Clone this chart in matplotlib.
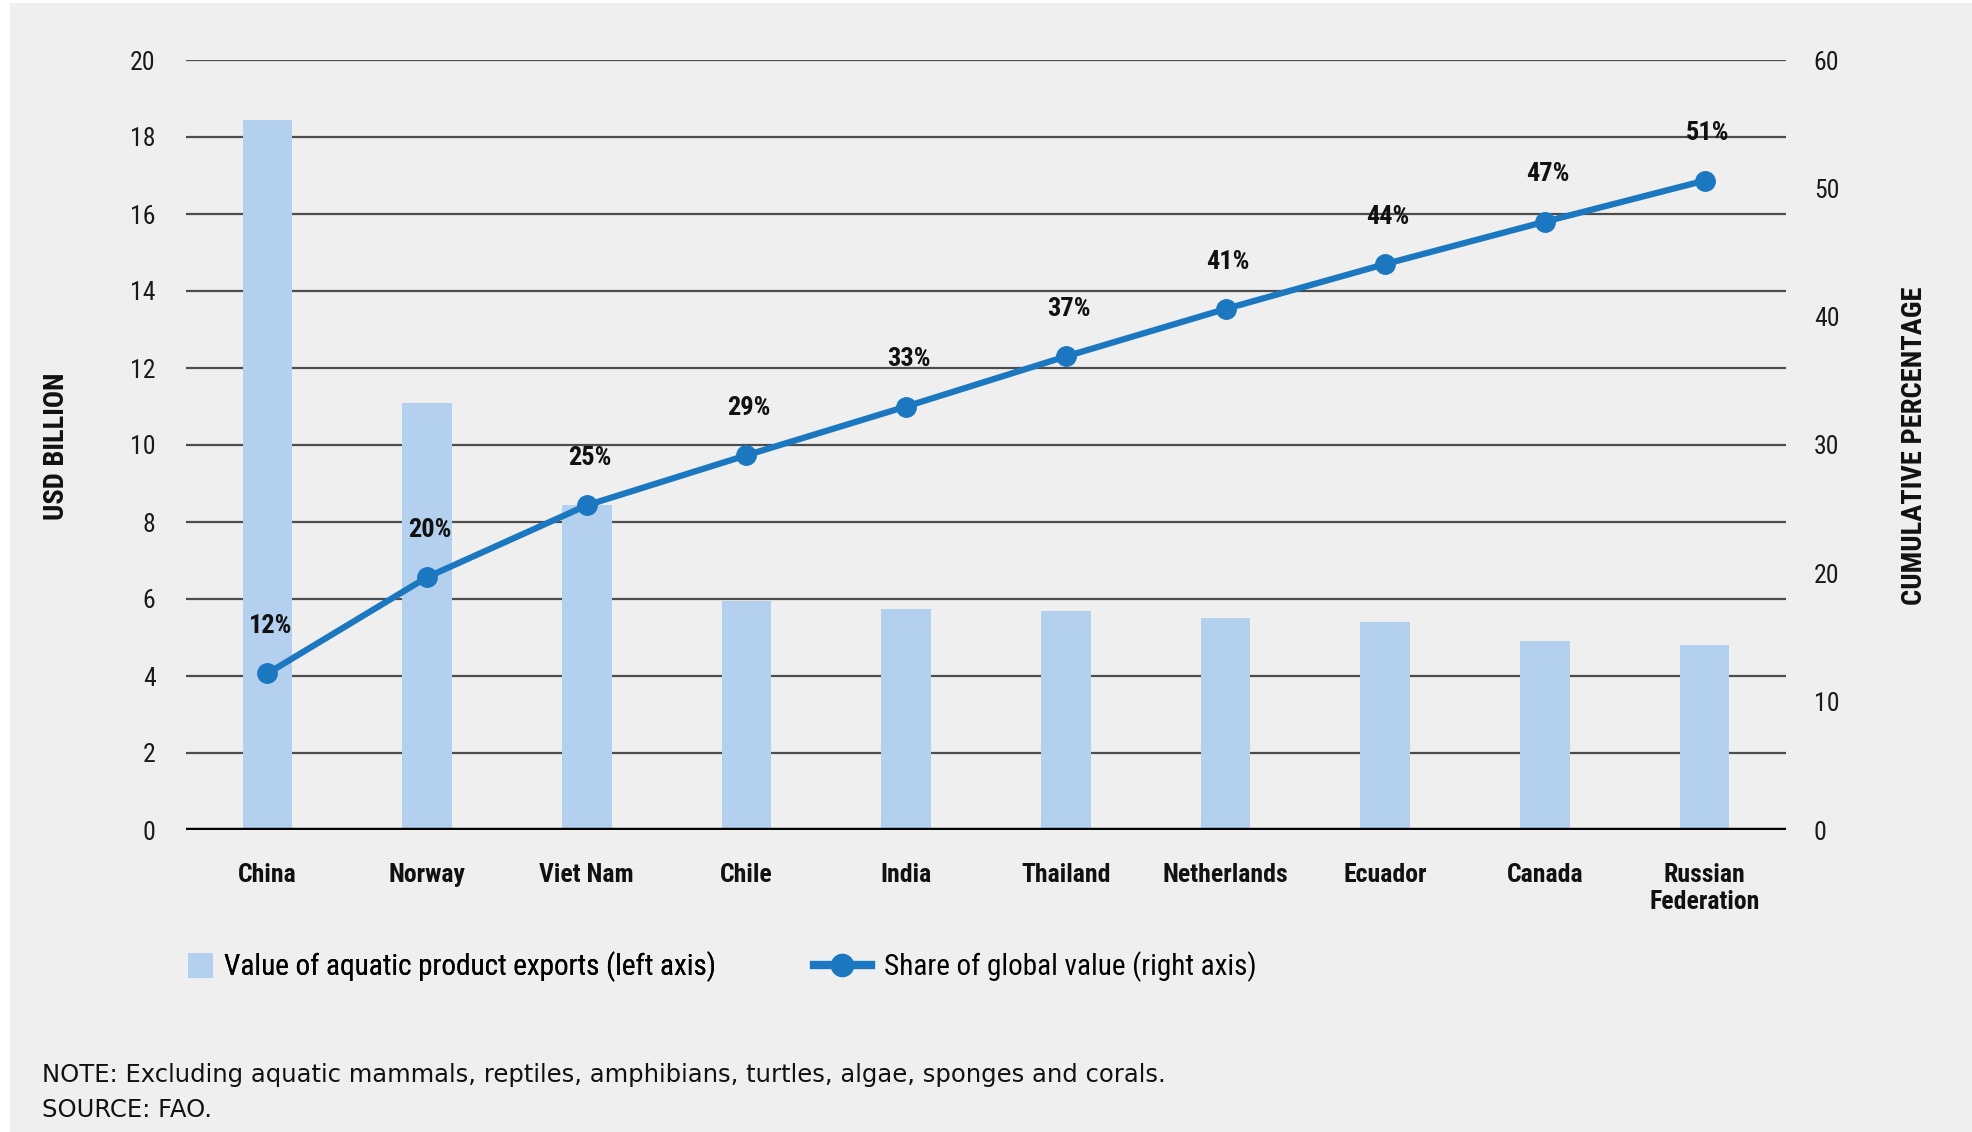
import matplotlib
matplotlib.use("Agg")
import matplotlib.pyplot as plt
from matplotlib import font_manager
from matplotlib.patches import Rectangle, Patch
from matplotlib.lines import Line2D

# ---- data ----
countries = ["China", "Norway", "Viet Nam", "Chile", "India", "Thailand",
             "Netherlands", "Ecuador", "Canada", "Russian\nFederation"]
export_value = [18.45, 11.1, 8.45, 5.95, 5.75, 5.7, 5.5, 5.4, 4.9, 4.8]   # USD billion
cumulative_share = [12.2, 19.7, 25.3, 29.2, 33.0, 36.9, 40.6, 44.1, 47.4, 50.6]  # %
left_ticks = [0, 2, 4, 6, 8, 10, 12, 14, 16, 18, 20]
right_ticks = [0, 10, 20, 30, 40, 50, 60]

bar_label = "Value of aquatic product exports (left axis)"
line_label = "Share of global value (right axis)"
note_text = "NOTE: Excluding aquatic mammals, reptiles, amphibians, turtles, algae, sponges and corals."
source_text = "SOURCE: FAO."

# ---- fonts ----
installed = {f.name for f in font_manager.fontManager.ttflist}
narrow = None
for cand in ["Liberation Sans Narrow", "Roboto Condensed", "Open Sans Condensed",
             "DejaVu Sans Condensed"]:
    if cand in installed:
        narrow = cand
        break
if narrow is None:
    narrow_family = ["DejaVu Sans"]
    narrow_stretch = "condensed"
else:
    narrow_family = [narrow, "DejaVu Sans"]
    narrow_stretch = "normal"

plt.rcParams["font.family"] = narrow_family

BG = "#efefef"
BAR = "#b3d1ee"
LINE = "#1b78c0"
GRID = "#4d4d4d"
INK = "#111111"

fig = plt.figure(figsize=(19.72, 11.32), dpi=100, facecolor="white")
fig.patches.append(Rectangle((10 / 1972, 0), 1, 1 - 3 / 1132, transform=fig.transFigure,
                             facecolor=BG, edgecolor="none", zorder=-10))

ax = fig.add_axes([186 / 1972, 1 - 830 / 1132, 1600 / 1972, 770 / 1132])
ax.set_facecolor("none")
ax2 = ax.twinx()
ax.set_zorder(1)
ax2.set_zorder(2)
ax2.patch.set_visible(False)

x = list(range(len(countries)))

# gridlines
for t in left_ticks[1:]:
    ax.axhline(t, color=GRID, lw=1.6, zorder=0)
ax.axhline(0, color="black", lw=3.2, zorder=3)

ax.bar(x, export_value, width=0.31, color=BAR, zorder=2)

ax.set_xlim(-0.51, len(countries) - 0.49)
ax.set_ylim(0, 20)
ax.set_yticks(left_ticks)
ax2.set_ylim(0, 60)
ax2.set_yticks(right_ticks)

ax2.plot(x, cumulative_share, color=LINE, lw=4.5, marker="o", ms=14, zorder=5)
for xi, v in zip(x, cumulative_share):
    ax2.annotate(f"{v:.0f}%", (xi, v), xytext=(2, 34), textcoords="offset points",
                 ha="center", va="center", fontsize=19, fontweight="bold",
                 fontstretch=narrow_stretch, color=INK)

for a in (ax, ax2):
    for s in a.spines.values():
        s.set_visible(False)
    a.tick_params(length=0)

ax.set_xticks(x)
ax.set_xticklabels(countries, fontsize=18.5, fontweight="bold", linespacing=1.12,
                   fontstretch=narrow_stretch, color=INK)
ax.tick_params(axis="x", pad=24)
ax.tick_params(axis="y", labelsize=18.5, pad=22)
ax2.tick_params(axis="y", labelsize=18.5, pad=20)
for lbl in ax.get_yticklabels() + ax2.get_yticklabels():
    lbl.set_fontstretch(narrow_stretch)
    lbl.set_color("#1a1a1a")

fig.text(57 / 1972, 1 - 446 / 1132, "USD BILLION", rotation=90, ha="center", va="center",
         fontsize=20.5, fontweight="bold", fontstretch=narrow_stretch, color=INK)
fig.text(1914 / 1972, 1 - 446 / 1132, "CUMULATIVE PERCENTAGE", rotation=90, ha="center",
         va="center", fontsize=20.5, fontweight="bold", fontstretch=narrow_stretch, color=INK)

# legends
leg_size = 21
leg1 = fig.legend(handles=[Patch(facecolor=BAR, edgecolor="none")], labels=[bar_label],
                  loc="center left", bbox_to_anchor=(188 / 1972, 1 - 967 / 1132),
                  frameon=False, borderpad=0, borderaxespad=0,
                  handlelength=0.87, handleheight=0.9, handletextpad=0.35,
                  prop={"size": leg_size, "stretch": narrow_stretch})
leg2 = fig.legend(handles=[Line2D([], [], color=LINE, lw=6, marker="o", ms=16)],
                  labels=[line_label], loc="center left",
                  bbox_to_anchor=(814 / 1972, 1 - 967 / 1132), frameon=False,
                  borderpad=0, borderaxespad=0,
                  handlelength=1.94, handletextpad=0.45,
                  prop={"size": leg_size, "stretch": narrow_stretch})
fig.add_artist(leg1)

fig.text(42 / 1972, 1 - 1075 / 1132, note_text, ha="left", va="center",
         fontsize=17.5, family="DejaVu Sans", color=INK)
fig.text(42 / 1972, 1 - 1110 / 1132, source_text, ha="left", va="center",
         fontsize=17.5, family="DejaVu Sans", color=INK)

fig.savefig("out.png", dpi=100, facecolor=fig.get_facecolor())
